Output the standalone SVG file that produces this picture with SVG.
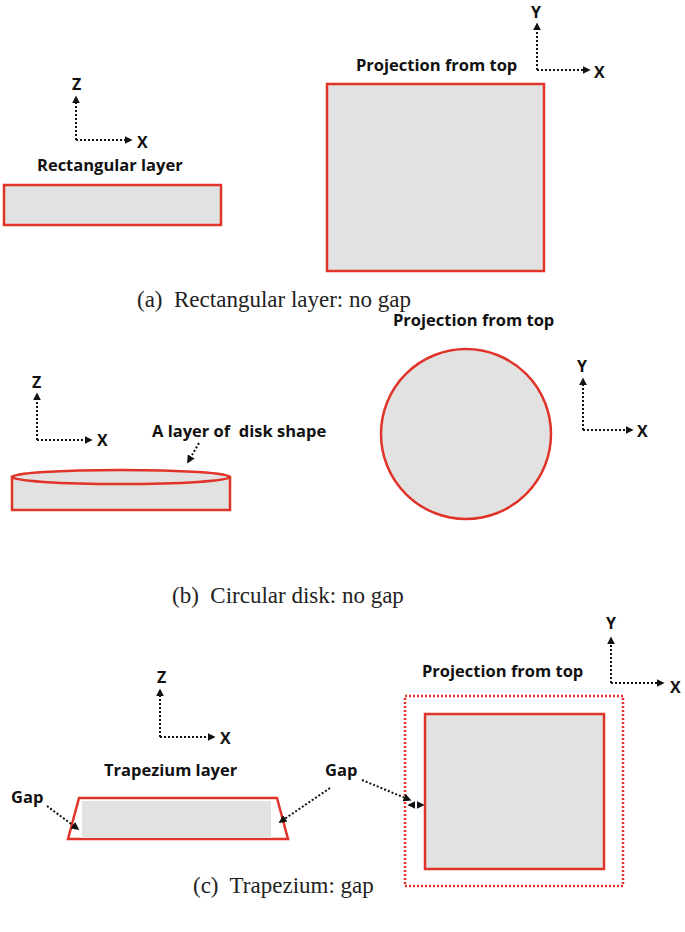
<svg xmlns="http://www.w3.org/2000/svg" width="685" height="932" viewBox="0 0 685 932">
<style>
.lbl{font-family:"Open Sans","DejaVu Sans",sans-serif;font-weight:bold;font-size:16.5px;fill:#111}
.ax{font-family:"Open Sans","DejaVu Sans",sans-serif;font-weight:bold;font-size:16px;fill:#111}
.cap{font-family:"Liberation Serif",serif;font-size:23px;fill:#222;white-space:pre}
.dot{stroke:#111;stroke-width:2;stroke-dasharray:2 2;fill:none}
.shape{fill:#e2e2e2;stroke:#e0342a;stroke-width:2.5}
</style>
<defs>
<marker id="ah" viewBox="0 0 10 10" refX="8" refY="5" markerWidth="4" markerHeight="4" orient="auto-start-reverse"><path d="M0,0L10,5L0,10z" fill="#111"/></marker>
</defs>
<rect width="685" height="932" fill="#fff"/>
<g id="a-axes">
<path class="dot" d="M76,140V97" marker-end="url(#ah)"/><path class="dot" d="M76,140H131" marker-end="url(#ah)"/>
<text class="ax" x="72" y="90">Z</text><text class="ax" x="137" y="148">X</text>
</g>
<g id="a-side"><text class="lbl" x="37" y="171">Rectangular layer</text><rect class="shape" x="4" y="185" width="217" height="40"/></g>
<g id="a-top"><text class="lbl" x="356" y="71">Projection from top</text><rect class="shape" x="327" y="84" width="217" height="187"/></g>
<g id="a-axes2">
<path class="dot" d="M537,70V24" marker-end="url(#ah)"/><path class="dot" d="M537,70H589" marker-end="url(#ah)"/>
<text class="ax" x="531" y="18">Y</text><text class="ax" x="594" y="78">X</text>
</g>
<text class="cap" x="137" y="307" xml:space="preserve">(a)  Rectangular layer: no gap</text>

<g id="b-axes">
<path class="dot" d="M37,440V394" marker-end="url(#ah)"/><path class="dot" d="M37,440H91" marker-end="url(#ah)"/>
<text class="ax" x="32" y="388">Z</text><text class="ax" x="97" y="446">X</text>
</g>
<g id="b-side">
<rect class="shape" x="12" y="477" width="218" height="33"/>
<ellipse cx="121" cy="477" rx="109" ry="7" class="shape" fill="#ececec"/>
<text class="lbl" x="152" y="437" xml:space="preserve">A layer of  disk shape</text>
</g>
<g id="b-top"><text class="lbl" x="393" y="326">Projection from top</text><circle class="shape" cx="466" cy="434" r="85"/></g>
<g id="b-axes2">
<path class="dot" d="M583,430V379" marker-end="url(#ah)"/><path class="dot" d="M583,430H632" marker-end="url(#ah)"/>
<text class="ax" x="577" y="372">Y</text><text class="ax" x="637" y="437">X</text>
</g>
<text class="cap" x="172" y="603" xml:space="preserve">(b)  Circular disk: no gap</text>

<g id="c-axes">
<path class="dot" d="M160,737V690" marker-end="url(#ah)"/><path class="dot" d="M160,737H214" marker-end="url(#ah)"/>
<text class="ax" x="157" y="683">Z</text><text class="ax" x="220" y="744">X</text>
</g>
<g id="c-side">
<text class="lbl" x="104" y="776">Trapezium layer</text>
<polygon points="79,798 277,798 288,839 68,839" fill="#fff" stroke="#e0342a" stroke-width="2.5"/>
<rect x="82" y="801" width="189" height="37" fill="#e2e2e2"/>
<text class="lbl" x="11" y="803">Gap</text>
<text class="lbl" x="325" y="776">Gap</text>
</g>
<g id="c-top">
<text class="lbl" x="422" y="677">Projection from top</text>
<rect x="405" y="696" width="218" height="190" fill="none" stroke="#e0342a" stroke-width="2.5" stroke-dasharray="2 2"/>
<rect class="shape" x="425" y="714" width="179" height="155"/>
</g>
<g id="c-axes2">
<path class="dot" d="M611,683V638" marker-end="url(#ah)"/><path class="dot" d="M611,683H663" marker-end="url(#ah)"/>
<text class="ax" x="606" y="629">Y</text><text class="ax" x="670" y="693">X</text>
</g>
<text class="cap" x="193" y="893" xml:space="preserve">(c)  Trapezium: gap</text>

<g id="connectors">
<path class="dot" d="M199,443L188,462" marker-end="url(#ah)"/>
<path class="dot" d="M47,806L78,829" marker-end="url(#ah)"/>
<path class="dot" d="M330,788L280,822" marker-end="url(#ah)"/>
<path class="dot" d="M362,780L410,800" marker-end="url(#ah)"/>
<path class="dot" d="M409,805H423" marker-start="url(#ah)" marker-end="url(#ah)"/>
</g>
</svg>
